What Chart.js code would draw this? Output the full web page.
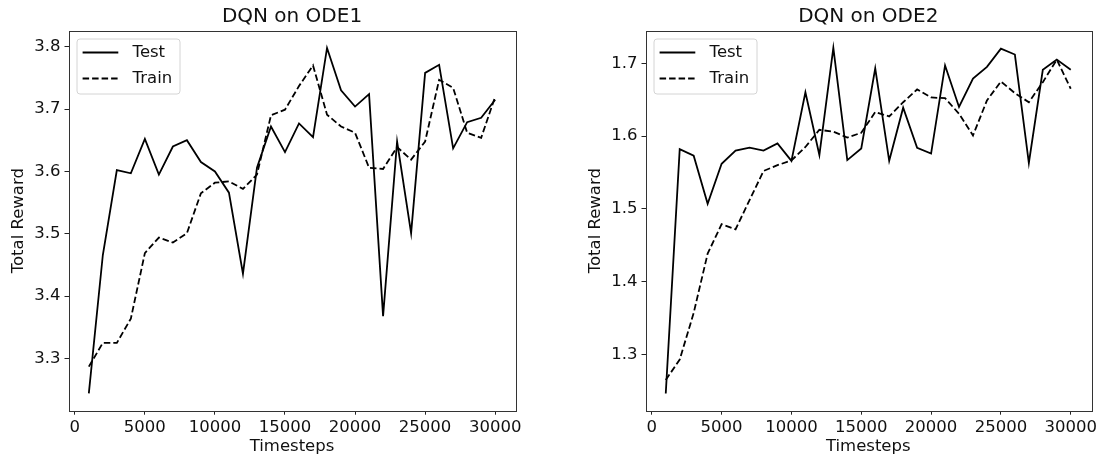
<!DOCTYPE html>
<html>
<head>
<meta charset="utf-8">
<script src="https://cdn.jsdelivr.net/npm/chart.js@4.4.1/dist/chart.umd.min.js"></script>
<style>
  html, body { margin: 0; padding: 0; background: #fff; }
  #wrap { position: relative; width: 1101px; height: 457px; overflow: hidden; }
  canvas { position: absolute; top: 0; }
  #c1 { left: 0; }
  #c2 { left: 550px; }
</style>
</head>
<body>
<div id="wrap">
  <canvas id="c1" width="550" height="457"></canvas>
  <canvas id="c2" width="551" height="457"></canvas>
</div>
<script>
// Timesteps at which each evaluation was recorded
const steps = [1000, 2000, 3000, 4000, 5000, 6000, 7000, 8000, 9000, 10000,
               11000, 12000, 13000, 14000, 15000, 16000, 17000, 18000, 19000, 20000,
               21000, 22000, 23000, 24000, 25000, 26000, 27000, 28000, 29000, 30000];

// ODE1 rewards
const ode1Test  = [3.244, 3.466, 3.602, 3.597, 3.652, 3.595, 3.640, 3.650, 3.615, 3.600,
                   3.566, 3.436, 3.606, 3.672, 3.631, 3.677, 3.655, 3.798, 3.730, 3.704,
                   3.724, 3.368, 3.648, 3.501, 3.758, 3.771, 3.637, 3.679, 3.686, 3.715];
const ode1Train = [3.287, 3.325, 3.325, 3.364, 3.469, 3.494, 3.486, 3.501, 3.565, 3.582,
                   3.584, 3.572, 3.595, 3.690, 3.699, 3.737, 3.770, 3.691, 3.672, 3.662,
                   3.606, 3.604, 3.639, 3.619, 3.648, 3.747, 3.734, 3.662, 3.654, 3.720];

// ODE2 rewards
const ode2Test  = [1.2465, 1.582, 1.573, 1.507, 1.562, 1.580, 1.584, 1.580, 1.590, 1.566,
                   1.660, 1.574, 1.721, 1.567, 1.583, 1.693, 1.566, 1.639, 1.584, 1.576,
                   1.697, 1.640, 1.679, 1.695, 1.720, 1.712, 1.563, 1.691, 1.705, 1.691];
const ode2Train = [1.265, 1.293, 1.357, 1.4385, 1.479, 1.472, 1.512, 1.552, 1.560, 1.5665,
                   1.585, 1.6086, 1.606, 1.598, 1.6045, 1.633, 1.627, 1.6465, 1.664, 1.653,
                   1.652, 1.6306, 1.6008, 1.649, 1.675, 1.659, 1.6465, 1.674, 1.705, 1.665];

// Tick labels
const xTicks    = [0, 5000, 10000, 15000, 20000, 25000, 30000];
const ode1Ticks = [3.3, 3.4, 3.5, 3.6, 3.7, 3.8];
const ode2Ticks = [1.3, 1.4, 1.5, 1.6, 1.7];

const FONT = "'DejaVu Sans', 'Liberation Sans', sans-serif";
const TEXT = '#111';

// Axis range with a 5% margin around the data, like matplotlib's autoscale
function padded(values) {
  const lo = Math.min(...values), hi = Math.max(...values);
  const m = (hi - lo) * 0.05;
  return [lo - m, hi + m];
}

// Frame around the plotting area
const framePlugin = {
  id: 'frame',
  afterDraw(chart) {
    const { ctx, chartArea: a } = chart;
    ctx.save();
    ctx.strokeStyle = '#333';
    ctx.lineWidth = 1;
    ctx.strokeRect(Math.round(a.left) + 0.5, Math.round(a.top) + 0.5,
                   Math.round(a.right - a.left), Math.round(a.bottom - a.top));
    ctx.restore();
  }
};

// Boxed legend in the upper-left corner of the plot
const boxLegendPlugin = {
  id: 'boxLegend',
  afterDraw(chart) {
    const { ctx, chartArea: a } = chart;
    const bx = a.left + 8.5, by = a.top + 8.3, bw = 103, bh = 55, r = 3;
    ctx.save();
    ctx.beginPath();
    ctx.moveTo(bx + r, by);
    ctx.arcTo(bx + bw, by, bx + bw, by + bh, r);
    ctx.arcTo(bx + bw, by + bh, bx, by + bh, r);
    ctx.arcTo(bx, by + bh, bx, by, r);
    ctx.arcTo(bx, by, bx + bw, by, r);
    ctx.closePath();
    ctx.fillStyle = 'rgba(255,255,255,0.8)';
    ctx.fill();
    ctx.strokeStyle = '#d4d4d4';
    ctx.lineWidth = 1;
    ctx.stroke();

    chart.data.datasets.forEach((ds, i) => {
      const y = by + 13.5 + i * 26;
      ctx.beginPath();
      ctx.setLineDash(ds.borderDash || []);
      ctx.strokeStyle = ds.borderColor;
      ctx.lineWidth = ds.borderWidth;
      ctx.moveTo(bx + 5.6, y);
      ctx.lineTo(bx + 41.3, y);
      ctx.stroke();
      ctx.setLineDash([]);
      ctx.fillStyle = TEXT;
      ctx.font = '16.5px ' + FONT;
      ctx.textBaseline = 'middle';
      ctx.textAlign = 'left';
      ctx.fillText(ds.label, bx + 55.6, y);
    });
    ctx.restore();
  }
};

function makeChart(id, title, test, train, yTicks, padLeft, padRight) {
  const [ymin, ymax] = padded(test.concat(train));
  const tickFont = { family: FONT, size: 16.5 };
  return new Chart(document.getElementById(id), {
    type: 'line',
    data: {
      datasets: [
        { label: 'Test', data: steps.map((s, i) => ({ x: s, y: test[i] })),
          borderColor: '#000', borderWidth: 1.8, pointRadius: 0, tension: 0, fill: false },
        { label: 'Train', data: steps.map((s, i) => ({ x: s, y: train[i] })),
          borderColor: '#000', borderWidth: 1.8, borderDash: [6.5, 3], pointRadius: 0, tension: 0, fill: false }
      ]
    },
    options: {
      responsive: false,
      animation: false,
      events: [],
      layout: { padding: { left: padLeft, right: padRight, top: 0, bottom: 0 } },
      plugins: {
        legend: { display: false },
        tooltip: { enabled: false },
        title: {
          display: true, text: title, fullSize: false, color: TEXT,
          font: { family: FONT, size: 20, weight: 'normal' },
          padding: { top: 5, bottom: 1.7 }
        }
      },
      scales: {
        x: {
          type: 'linear', min: -450, max: 31450,
          afterBuildTicks: s => { s.ticks = xTicks.map(v => ({ value: v })); },
          afterFit: s => { s.height = 46.3; },
          grid: { display: true, drawOnChartArea: false, drawTicks: true, tickLength: 4, tickColor: '#222', tickWidth: 1 },
          border: { display: false },
          ticks: { font: tickFont, color: TEXT, padding: 3, maxRotation: 0, autoSkip: false, callback: v => String(v) },
          title: { display: true, text: 'Timesteps', color: TEXT, font: tickFont, padding: { top: 0, bottom: 0.5 } }
        },
        y: {
          type: 'linear', min: ymin, max: ymax,
          afterBuildTicks: s => { s.ticks = yTicks.map(v => ({ value: v })); },
          afterFit: s => { s.width = 68.5; },
          grid: { display: true, drawOnChartArea: false, drawTicks: true, tickLength: 4, tickColor: '#222', tickWidth: 1 },
          border: { display: false },
          ticks: { font: tickFont, color: TEXT, padding: 4, autoSkip: false, callback: v => v.toFixed(1) },
          title: { display: true, text: 'Total Reward', color: TEXT, font: tickFont, padding: { top: 9, bottom: 0 } }
        }
      }
    },
    plugins: [framePlugin, boxLegendPlugin]
  });
}

makeChart('c1', 'DQN on ODE1', ode1Test, ode1Train, ode1Ticks, 0, 34.5);
makeChart('c2', 'DQN on ODE2', ode2Test, ode2Train, ode2Ticks, 27, 10);
</script>
</body>
</html>
